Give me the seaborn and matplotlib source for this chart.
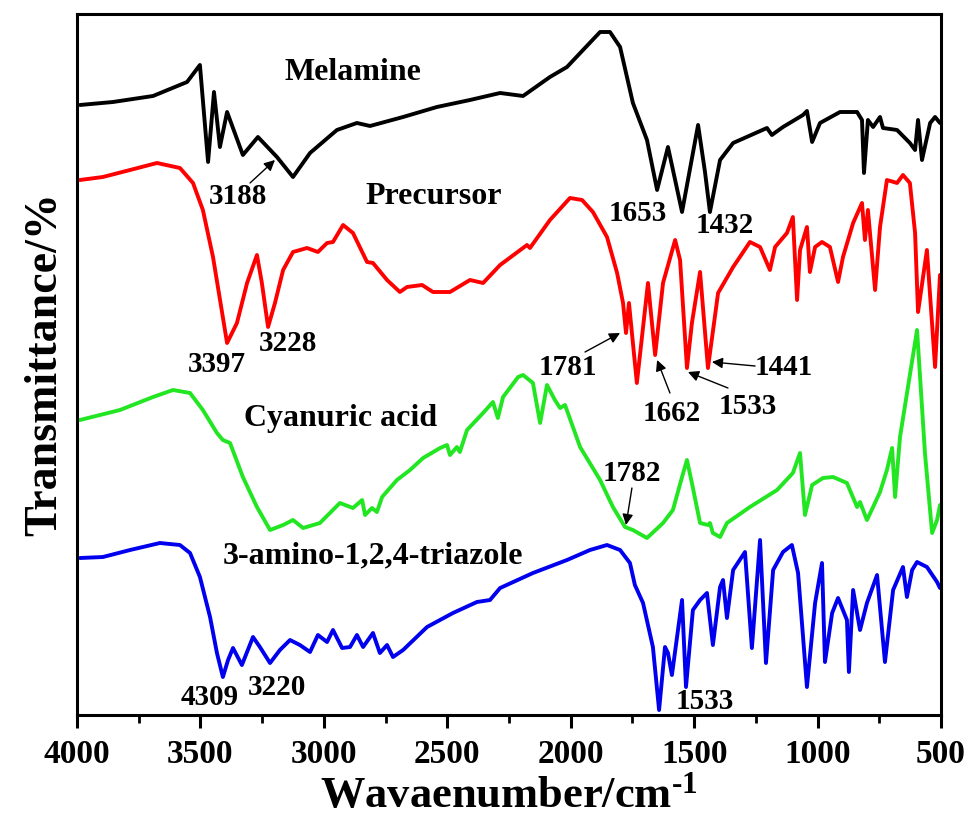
import matplotlib
matplotlib.use("Agg")
import matplotlib.pyplot as plt
import seaborn as sns
import pandas as pd
from matplotlib.ticker import MultipleLocator

# ---- data (wavenumber cm^-1, offset transmittance, arbitrary units) ----
mel_w = [3988, 3854, 3692, 3554, 3502, 3469, 3445, 3421, 3392, 3328, 3267, 3190, 3125, 3056,
         2947, 2866, 2813, 2679, 2542, 2408, 2286, 2193, 2084, 2015, 1950, 1881, 1841, 1800,
         1748, 1691, 1650, 1606, 1577, 1549, 1484, 1456, 1436, 1395, 1342, 1205, 1185, 1140,
         1059, 1043, 1022, 990, 909, 840, 820, 812, 796, 775, 747, 735, 678, 626, 605, 593,
         577, 544, 524, 504]
mel_px = [105, 102, 96, 82, 65, 162, 92, 147, 112, 155, 137, 157, 177, 153,
          130, 123, 126, 117, 107, 100, 93, 96, 77, 67, 50, 32, 32, 47,
          103, 140, 190, 147, 180, 212, 125, 172, 212, 160, 143, 128, 135, 127,
          115, 111, 142, 123, 112, 112, 120, 173, 120, 127, 117, 128, 130, 143, 150, 120,
          160, 123, 117, 123]

pre_w = [3988, 3895, 3785, 3676, 3583, 3530, 3490, 3449, 3392, 3352, 3311, 3271, 3251, 3226,
         3198, 3165, 3125, 3068, 3024, 2987, 2963, 2922, 2882, 2825, 2801, 2744, 2692, 2663,
         2602, 2558, 2489, 2408, 2355, 2286, 2177, 2165, 2084, 2003, 1954, 1910, 1853, 1812,
         1788, 1776, 1764, 1732, 1687, 1658, 1626, 1577, 1557, 1529, 1509, 1476, 1444, 1403,
         1342, 1274, 1233, 1193, 1172, 1124, 1100, 1083, 1071, 1043, 1031, 1010, 982, 950,
         917, 897, 856, 820, 808, 796, 767, 747, 719, 678, 654, 626, 605, 593, 557, 524, 504]
pre_px = [180, 177, 170, 163, 168, 183, 210, 257, 343, 323, 283, 255, 283, 327,
          303, 270, 252, 248, 252, 243, 242, 225, 233, 262, 263, 280, 292, 287,
          285, 292, 292, 280, 283, 265, 245, 248, 220, 198, 200, 212, 237, 273,
          303, 333, 303, 383, 283, 355, 283, 240, 260, 368, 323, 272, 368, 293,
          267, 242, 247, 270, 247, 233, 217, 300, 250, 227, 272, 247, 242, 247,
          282, 257, 223, 203, 240, 210, 290, 227, 180, 183, 175, 183, 233, 312, 250, 367, 275]

cya_w = [3988, 3826, 3692, 3611, 3542, 3490, 3433, 3409, 3380, 3328, 3271, 3218, 3165, 3125,
         3084, 3016, 2935, 2882, 2845, 2833, 2805, 2785, 2764, 2704, 2651, 2598, 2529, 2501,
         2489, 2461, 2449, 2420, 2355, 2315, 2295, 2274, 2213, 2193, 2153, 2124, 2096, 2064,
         2043, 2023, 1962, 1881, 1829, 1780, 1748, 1691, 1626, 1586, 1549, 1529, 1509, 1476,
         1444, 1436, 1424, 1395, 1367, 1274, 1164, 1100, 1071, 1051, 1022, 978, 937, 881,
         840, 828, 800, 775, 747, 719, 698, 686, 666, 597, 565, 536, 516, 504]
cya_px = [420, 410, 397, 390, 393, 410, 433, 440, 443, 477, 507, 530, 525, 520,
          528, 523, 503, 508, 500, 515, 508, 512, 497, 480, 470, 458, 448, 445,
          455, 447, 452, 430, 413, 402, 418, 397, 377, 375, 383, 423, 385, 400,
          408, 405, 447, 480, 507, 527, 530, 538, 523, 510, 477, 460, 483, 523,
          525, 523, 533, 537, 523, 507, 490, 473, 453, 515, 485, 478, 477, 483,
          507, 502, 520, 507, 492, 470, 448, 497, 437, 330, 453, 533, 520, 505]

tri_w = [3988, 3895, 3785, 3664, 3583, 3542, 3502, 3461, 3433, 3409, 3388, 3368, 3332, 3287,
         3259, 3218, 3178, 3137, 3097, 3056, 3024, 2987, 2963, 2926, 2894, 2866, 2841, 2801,
         2773, 2744, 2720, 2679, 2582, 2477, 2380, 2327, 2286, 2153, 2015, 1922, 1853, 1800,
         1760, 1740, 1707, 1667, 1642, 1618, 1606, 1590, 1549, 1533, 1505, 1476, 1448, 1424,
         1395, 1383, 1367, 1342, 1294, 1266, 1233, 1209, 1180, 1140, 1104, 1079, 1043, 1010,
         982, 970, 941, 917, 881, 873, 856, 828, 800, 759, 727, 694, 654, 638, 617, 597,
         557, 516, 504]
tri_px = [558, 557, 550, 543, 545, 553, 577, 617, 653, 677, 660, 648, 665, 637,
          647, 663, 650, 640, 645, 652, 635, 642, 630, 648, 647, 635, 647, 633,
          653, 645, 657, 650, 627, 613, 602, 600, 588, 573, 560, 550, 545, 550,
          563, 585, 603, 647, 710, 647, 653, 675, 600, 687, 610, 600, 593, 645,
          587, 580, 618, 570, 552, 648, 540, 663, 570, 552, 545, 573, 687, 603,
          563, 662, 613, 598, 620, 672, 590, 630, 603, 575, 662, 590, 567, 597, 570, 562,
          567, 582, 588]

names = ["Melamine", "Precursor", "Cyanuric acid", "3-amino-1,2,4-triazole"]
colors = ["#000000", "#ff0000", "#22e622", "#0000ee"]

BASE = 715
frames = []
for n, w, p in zip(names, [mel_w, pre_w, cya_w, tri_w], [mel_px, pre_px, cya_px, tri_px]):
    frames.append(pd.DataFrame({"wavenumber": w, "T": [BASE - v for v in p], "sample": n}))
df = pd.concat(frames, ignore_index=True)

# ---- style ----
sns.set_style("ticks")
plt.rcParams["font.family"] = ["Liberation Serif", "DejaVu Serif"]
plt.rcParams["font.weight"] = "bold"
plt.rcParams["text.color"] = "black"
plt.rcParams["axes.labelcolor"] = "black"
plt.rcParams["xtick.color"] = "black"
plt.rcParams["ytick.color"] = "black"
plt.rcParams["axes.edgecolor"] = "black"
plt.rcParams["mathtext.fontset"] = "custom"
plt.rcParams["mathtext.rm"] = "Liberation Serif:bold"
plt.rcParams["mathtext.default"] = "rm"

fig = plt.figure(figsize=(9.72, 8.18), dpi=100)
ax = fig.add_axes([0.0792, 0.1259, 0.8889, 0.857])

sns.lineplot(data=df, x="wavenumber", y="T", hue="sample", palette=dict(zip(names, colors)),
             hue_order=names, sort=False, estimator=None, legend=False, lw=2.8, ax=ax)
for ln in ax.lines:
    ln.set_solid_joinstyle("round")
    ln.set_solid_capstyle("round")

ax.set_xlim(4000, 500)
ax.set_ylim(0, 701)
ax.xaxis.set_major_locator(MultipleLocator(500))
ax.xaxis.set_minor_locator(MultipleLocator(250))
ax.set_yticks([])
ax.tick_params(axis="x", which="major", direction="out", length=9, width=2.2,
               labelsize=24, pad=8, colors="black")
ax.tick_params(axis="x", which="minor", direction="out", length=5.5, width=2.0, colors="black")
for lab in ax.get_xticklabels():
    lab.set_fontweight("bold")
for s in ax.spines.values():
    s.set_linewidth(2.2)
    s.set_color("black")
    s.set_visible(True)

ax.set_xlabel(r"Wavaenumber/cm$^{\text{-}1}$", fontsize=32, fontweight="bold",
              labelpad=4, color="black")
ax.set_ylabel("Transmittance/%", fontsize=33, fontweight="bold", labelpad=8, color="black")

# ---- annotations ----
big = dict(fontsize=23, fontweight="bold", ha="center", va="center", color="black")
num = dict(fontsize=21, fontweight="bold", ha="center", va="center", color="black")
ax.text(2882, 642, "Melamine", **big)
ax.text(2554, 518, "Precursor", **big)
ax.text(2931, 297, "Cyanuric acid", **big)
ax.text(2801, 159, "3-amino-1,2,4-triazole", **big)

ax.text(3348, 518, "3188", **num)
ax.text(3433, 351, "3397", **num)
ax.text(3145, 372, "3228", **num)
ax.text(1727, 501, "1653", **num)
ax.text(1375, 489, "1432", **num)
ax.text(2011, 348, "1781", **num)
ax.text(1590, 302, "1662", **num)
ax.text(1282, 309, "1533", **num)
ax.text(1136, 348, "1441", **num)
ax.text(1752, 242, "1782", **num)
ax.text(3461, 18, "4309", **num)
ax.text(3190, 28, "3220", **num)
ax.text(1456, 14, "1533", **num)

arrows = [((3299, 532), (3198, 555)),
          ((1942, 363), (1800, 382)),
          ((1598, 322), (1650, 355)),
          ((1363, 327), (1525, 343)),
          ((1253, 349), (1428, 353)),
          ((1752, 227), (1776, 190))]
for (x0, y0), (x1, y1) in arrows:
    ax.annotate("", xy=(x1, y1), xytext=(x0, y0),
                arrowprops=dict(arrowstyle="-|>", color="black", lw=1.0,
                                mutation_scale=16, shrinkA=0, shrinkB=0))

fig.savefig("out.png", dpi=100, facecolor="white")
